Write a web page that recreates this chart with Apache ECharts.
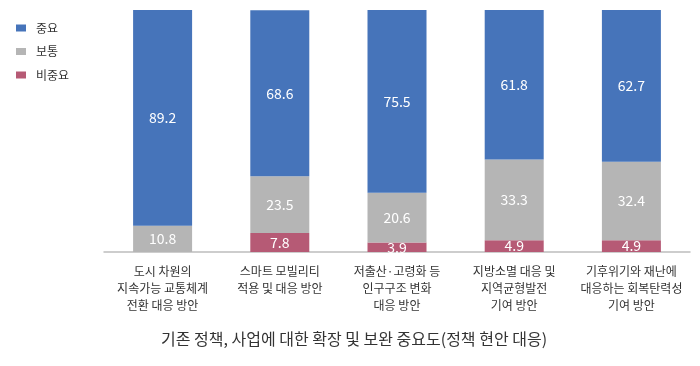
<!DOCTYPE html>
<html><head><meta charset="utf-8">
<script src="https://cdn.jsdelivr.net/npm/echarts@6/dist/echarts.min.js"></script>
<style>html,body{margin:0;padding:0;background:#fff}#c{width:700px;height:366px}</style>
</head><body><div id="c"></div>
<script>
const categories = ['도시 차원의\n지속가능 교통체계\n전환 대응 방안','스마트 모빌리티\n적용 및 대응 방안','저출산·고령화 등\n인구구조 변화\n대응 방안','지방소멸 대응 및\n지역균형발전\n기여 방안','기후위기와 재난에\n대응하는 회복탄력성\n기여 방안'];
const notImportant = [0, 7.8, 3.9, 4.9, 4.9];
const normal = [10.8, 23.5, 20.6, 33.3, 32.4];
const important = [89.2, 68.6, 75.5, 61.8, 62.7];
const titleText = '기존 정책, 사업에 대한 확장 및 보완 중요도(정책 현안 대응)';
const font = '"Noto Sans CJK KR", "Noto Sans", sans-serif';
const chart = echarts.init(document.getElementById('c'));
const lbl = {show:true, position:'inside', color:'#fff', fontSize:14, fontFamily:font,
  formatter: p => p.value > 0 ? p.value.toFixed(1) : ''};
chart.setOption({
  animation:false,
  textStyle:{fontFamily:font},
  title:{text:titleText, left:349, textAlign:'center', top:326, textStyle:{fontSize:16, fontWeight:'normal', color:'#333', fontFamily:font}},
  legend:{orient:'vertical', left:11, top:17, itemWidth:10, itemHeight:7, itemGap:11.5, icon:'rect',
    data:['중요','보통','비중요'], textStyle:{fontSize:12, color:'#333', fontFamily:font, padding:[0,0,0,5]}},
  grid:{left:104, right:10, top:10, bottom:114},
  xAxis:{type:'category', data:categories,
    axisLine:{lineStyle:{color:'#BDBDBD', width:1.5}}, axisTick:{show:false},
    axisLabel:{fontSize:12, color:'#333', lineHeight:17, margin:11, interval:0, fontFamily:font}},
  yAxis:{type:'value', min:0, max:100, show:false},
  series:[
    {name:'비중요', type:'bar', stack:'s', barWidth:59, data:notImportant, itemStyle:{color:'#B65A75'}, label:lbl},
    {name:'보통', type:'bar', stack:'s', data:normal, itemStyle:{color:'#B5B5B5'}, label:lbl},
    {name:'중요', type:'bar', stack:'s', data:important, itemStyle:{color:'#4674BA'}, label:lbl}
  ]
});
</script></body></html>
